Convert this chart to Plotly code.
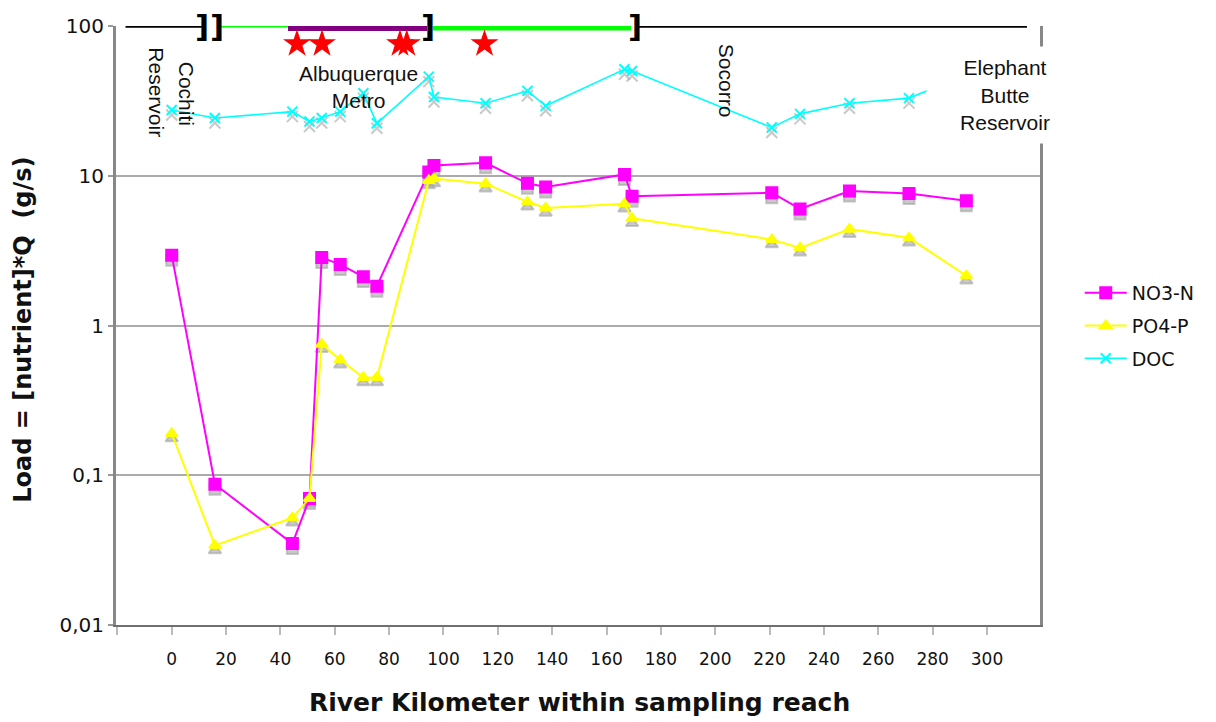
import plotly.graph_objects as go

# River kilometre of each sampling station
river_km = [0, 15.9, 44.4, 50.7, 55.2, 62.0, 70.5, 75.5, 94.6, 96.5, 115.5,
            130.9, 137.6, 166.6, 169.4, 220.8, 231.2, 249.4, 271.3, 292.4]

# Nutrient loads, g/s
no3_n = [2.95, 0.087, 0.035, 0.070, 2.85, 2.55, 2.12, 1.83, 10.6, 11.7, 12.2,
         8.9, 8.4, 10.2, 7.3, 7.7, 6.0, 7.9, 7.6, 6.8]
po4_p = [0.19, 0.034, 0.052, 0.070, 0.75, 0.59, 0.45, 0.45, 9.3, 9.6, 8.85,
         6.7, 6.1, 6.5, 5.2, 3.75, 3.3, 4.4, 3.85, 2.15]
doc = [27.5, 24.3, 26.8, 23.0, 24.3, 26.8, 35.6, 22.4, 45.9, 33.6, 30.5,
       36.9, 29.3, 51.4, 50.0, 21.0, 25.9, 30.5, 33.0, 47.0]

series_names = ["NO3-N", "PO4-P", "DOC"]

# Reach segments drawn along the top of the chart (start km, end km)
reach_black_up = [-17, 11.1]
reach_green_thin = [17.8, 42.8]
reach_purple = [42.8, 94.0]
reach_green_thick = [96.1, 169.0]
reach_black_down = [170.6, 314.7]
reach_bracket_km = [11.1, 16.7, 94.3, 170.5]

# Point-source discharges (km) and the level they are marked at
discharge_km = [46.1, 55.3, 84.0, 86.5, 115.1]
discharge_level = 76

x_ticks = list(range(-20, 321, 20))
x_tick_text = ["" if v in (-20, 320) else str(v) for v in x_ticks]
y_ticks = [0.01, 0.1, 1, 10, 100]
y_tick_text = ["0,01", "0,1", "1", "10", "100"]

fig = go.Figure()

# soft drop-shadow beneath each marker (a few pixels lower on the log scale)
shadow_factor = 10 ** (-5 / 150)
for vals, sym in [(no3_n, "square"), (po4_p, "triangle-up"), (doc, "x-thin")]:
    fig.add_trace(go.Scatter(
        x=river_km, y=[v * shadow_factor for v in vals], mode="markers",
        marker=dict(symbol=sym, size=11, color="rgba(165,165,165,0.6)",
                    line=dict(color="rgba(165,165,165,0.6)", width=2)),
        showlegend=False, hoverinfo="skip"))

styles = [
    dict(vals=no3_n, color="#FF00FF", sym="square", size=11, lw=2),
    dict(vals=po4_p, color="#FFFF00", sym="triangle-up", size=10, lw=2),
    dict(vals=doc, color="#00FFFF", sym="x-thin", size=10, lw=1.6),
]
for name, st in zip(series_names, styles):
    fig.add_trace(go.Scatter(
        x=river_km, y=st["vals"], mode="lines+markers", name=name,
        line=dict(color=st["color"], width=st["lw"]),
        marker=dict(symbol=st["sym"], size=st["size"], color=st["color"],
                    line=dict(color=st["color"], width=2)),
        legendgroup=name))

# reach bars along the top edge
top = 100
for seg, color, width in [(reach_black_up, "#000000", 3.5),
                          (reach_green_thin, "#00FF00", 3),
                          (reach_purple, "#800080", 10),
                          (reach_green_thick, "#00FF00", 9),
                          (reach_black_down, "#000000", 3.5)]:
    fig.add_trace(go.Scatter(x=seg, y=[top, top], mode="lines",
                             line=dict(color=color, width=width),
                             cliponaxis=False, showlegend=False, hoverinfo="skip"))

fig.add_trace(go.Scatter(
    x=discharge_km, y=[discharge_level] * len(discharge_km), mode="markers",
    marker=dict(symbol="star", size=21, color="#FF0000", line=dict(width=0)),
    cliponaxis=False, showlegend=False, hoverinfo="skip"))

annotations = []
for k in reach_bracket_km:
    annotations.append(dict(x=k, y=2, xref="x", yref="y", text="<b>]</b>",
                            showarrow=False, font=dict(family="DejaVu Sans", size=31, color="#000"),
                            xanchor="center", yanchor="middle"))

label_font = dict(family="Liberation Sans", size=21, color="#111")
annotations += [
    dict(x=-5.4, y=1.557, text="Reservoir", textangle=90),
    dict(x=5.3, y=1.547, text="Cochiti", textangle=90),
    dict(x=68.6, y=1.59, text="Albuquerque<br>Metro"),
    dict(x=204, y=1.633, text="Socorro", textangle=90),
    dict(x=306.6, y=1.54, text="Elephant<br>Butte<br>Reservoir",
         bgcolor="#FFFFFF", width=154, height=94),
]
for a in annotations[len(reach_bracket_km):]:
    a.update(xref="x", yref="y", showarrow=False, font=label_font,
             xanchor="center", yanchor="middle")

annotations += [
    dict(x=-0.1006, y=0.493, xref="paper", yref="paper", textangle=-90,
         text="<b>Load = [nutrient]*Q  (g/s)</b>", showarrow=False,
         font=dict(family="DejaVu Sans", size=24, color="#111"),
         xanchor="center", yanchor="middle"),
    dict(x=0.502, y=-0.130, xref="paper", yref="paper",
         text="<b>River Kilometer within sampling reach</b>", showarrow=False,
         font=dict(family="DejaVu Sans", size=25, color="#111"),
         xanchor="center", yanchor="middle"),
]

fig.update_layout(
    width=1216, height=722,
    margin=dict(l=116, r=176, t=26, b=97),
    paper_bgcolor="#FFFFFF", plot_bgcolor="#FFFFFF",
    annotations=annotations,
    legend=dict(x=1.043, y=0.586, xanchor="left", yanchor="top",
                font=dict(family="DejaVu Sans", size=19, color="#111"),
                traceorder="grouped", tracegroupgap=5, itemwidth=42,
                bgcolor="rgba(0,0,0,0)"),
    xaxis=dict(range=[-20.5, 319.5], tickvals=x_ticks, ticktext=x_tick_text,
               ticks="outside", ticklen=8, tickwidth=2, tickcolor="#BBBBBB",
               ticklabelstandoff=10,
               showgrid=False, zeroline=False,
               showline=True, linecolor="#707070", linewidth=2,
               tickfont=dict(family="DejaVu Sans", size=17, color="#111")),
    yaxis=dict(type="log", range=[-2, 2], tickvals=y_ticks, ticktext=y_tick_text,
               ticks="outside", ticklen=5, tickwidth=2, tickcolor="#999999",
               showgrid=True, gridcolor="#ABABAB", gridwidth=2,
               showline=True, linecolor="#888888", linewidth=3, mirror=True,
               zeroline=False,
               tickfont=dict(family="DejaVu Sans", size=20, color="#111")),
)

fig.write_html("out.html")
